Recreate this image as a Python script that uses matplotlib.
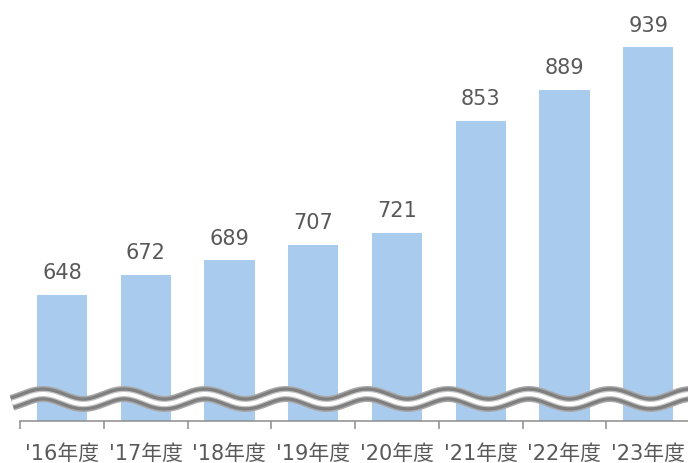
import numpy as np
import matplotlib
matplotlib.use("Agg")
import matplotlib.pyplot as plt

categories = ["'16年度", "'17年度", "'18年度", "'19年度", "'20年度", "'21年度", "'22年度", "'23年度"]
values = [648, 672, 689, 707, 721, 853, 889, 939]

W, H = 688, 464
fig = plt.figure(figsize=(W / 100, H / 100), dpi=100)
fam = ['DejaVu Sans', 'Noto Sans CJK JP']
text_color = '#595959'
bar_color = '#A9CBEE'

ax_left, ax_right = 20, 690
ax_top, ax_bottom = 0, 422
ax = fig.add_axes([ax_left / W, (H - ax_bottom) / H, (ax_right - ax_left) / W, (ax_bottom - ax_top) / H])
x = np.arange(len(categories))
bars = ax.bar(x, values, width=0.6, color=bar_color, zorder=2)
ax.set_xlim(-0.5, len(categories) - 0.5)
ax.set_ylim(500, 996)

for xi, v in zip(x, values):
    ax.annotate(f"{v}", (xi, v), xytext=(0, 12), textcoords='offset points',
                ha='center', va='baseline', fontsize=15, color=text_color, family=fam)

for s in ['top', 'right', 'left']:
    ax.spines[s].set_visible(False)
ax.spines['bottom'].set_color('#8c8c8c')
ax.spines['bottom'].set_linewidth(1.1)
ax.set_yticks([])
ax.set_xticks(x)
ax.set_xticklabels(categories, fontsize=15, color=text_color, family=fam)
ax.tick_params(axis='x', which='major', length=0, pad=16)
ax.set_xticks(np.arange(-0.5, len(categories), 1.0), minor=True)
ax.tick_params(axis='x', which='minor', length=6, width=1.1, color='#8c8c8c', direction='out')
ax.patch.set_alpha(0)

# wavy break band
ov = fig.add_axes([0, 0, 1, 1])
ov.set_xlim(0, W)
ov.set_ylim(H, 0)
ov.axis('off')
ov.patch.set_alpha(0)
xs = np.linspace(12, W + 2, 800)
ys = 400 - 5 * np.cos(2 * np.pi * (xs - 43) / 81)
px = 0.72
ov.plot(xs, ys, color='#a8a8a8', lw=16 * px, solid_capstyle='butt', zorder=3)
ov.plot(xs, ys, color='#7f7f7f', lw=13 * px, solid_capstyle='butt', zorder=4)
ov.plot(xs, ys, color='#c4c4c4', lw=6.5 * px, solid_capstyle='butt', zorder=5)
ov.plot(xs, ys, color='white', lw=4 * px, solid_capstyle='butt', zorder=6)

fig.savefig('out.png', dpi=100)
